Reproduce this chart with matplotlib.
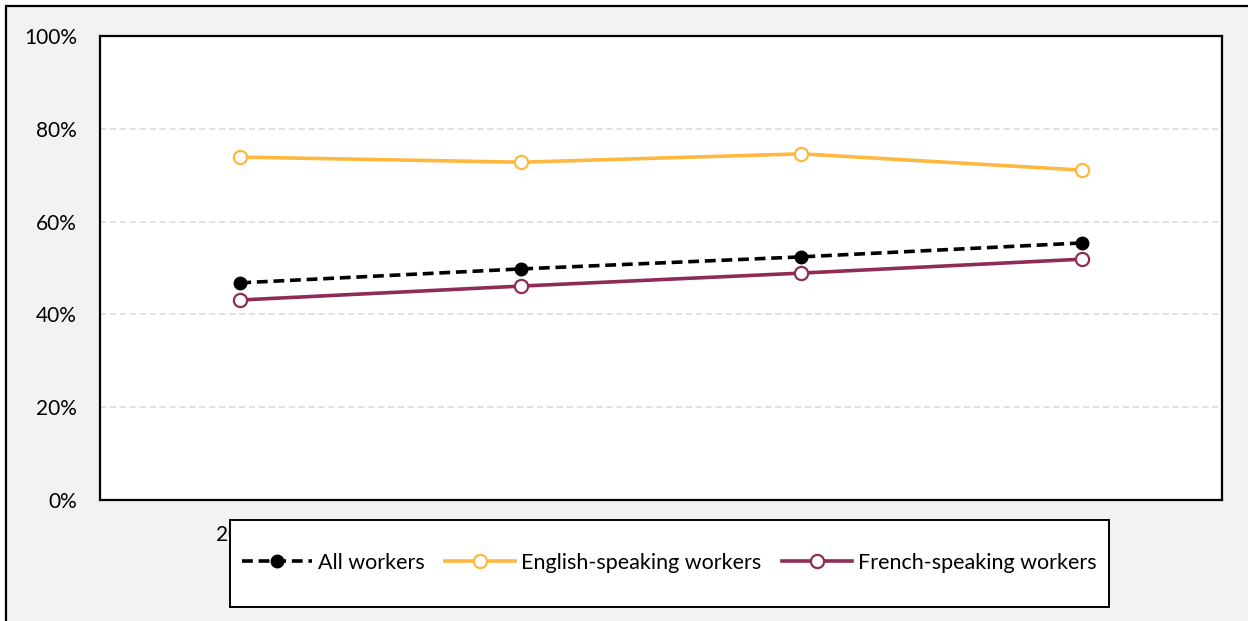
import matplotlib
matplotlib.use("Agg")
import matplotlib.pyplot as plt
from matplotlib.patches import Rectangle

years = ["2006", "2011", "2016", "2021"]
all_workers = [46.8, 49.8, 52.4, 55.4]
english = [73.9, 72.8, 74.6, 71.1]
french = [43.1, 46.1, 48.9, 51.9]
yticks = [0, 20, 40, 60, 80, 100]

C_ENG, C_FR = "#FFB83F", "#8E2C56"
W, H, DPI = 1248, 621, 100

plt.rcParams["font.family"] = ["Lato", "DejaVu Sans"]


def fx(px):
    return px / W


def fy(py):
    return 1 - py / H


fig = plt.figure(figsize=(W / DPI, H / DPI), dpi=DPI)
fig.patch.set_facecolor("white")
# outer chart frame (grey, runs off the right/bottom edge)
fig.patches.append(Rectangle((fx(6), -0.05), 1.1, fy(6) + 0.05, transform=fig.transFigure,
                             facecolor="#f2f2f2", edgecolor="black", lw=1.6, zorder=-10))

ax = fig.add_axes([fx(100), fy(500), fx(1122), 464 / H])
ax.set_zorder(1)
ax.set_facecolor("white")
x = range(len(years))
ax.plot(x, all_workers, color="black", ls=(0, (3, 1.6)), lw=2.6, marker="o", ms=9,
        mfc="black", mec="black", label="All workers", zorder=4)
ax.plot(x, english, color=C_ENG, lw=2.6, marker="o", ms=9.5, mfc="white", mec=C_ENG,
        mew=1.6, label="English-speaking workers", zorder=3)
ax.plot(x, french, color=C_FR, lw=2.6, marker="o", ms=9.5, mfc="white", mec=C_FR,
        mew=1.6, label="French-speaking workers", zorder=3)

ax.set_xlim(-0.5, len(years) - 0.5)
ax.set_ylim(0, 100)
ax.set_yticks(yticks)
ax.set_yticklabels([f"{v}%" for v in yticks], fontsize=15)
ax.set_xticks(list(x))
ax.set_xticklabels(years, fontsize=15)
ax.tick_params(length=0)
ax.tick_params(axis="y", pad=16.5)
ax.tick_params(axis="x", pad=18)
for v in yticks[1:-1]:
    ax.axhline(v, color="#d9d9d9", ls=(0, (4, 2.5)), lw=1.1, zorder=1)
for s in ax.spines.values():
    s.set_linewidth(1.6)
    s.set_color("black")

# legend box drawn over the x tick labels, as in the source chart
fig.patches.append(Rectangle((fx(230), fy(607)), fx(1109 - 230), (607 - 520) / H,
                             transform=fig.transFigure, facecolor="white",
                             edgecolor="black", lw=1.4, zorder=5))
leg = fig.legend(loc="center", bbox_to_anchor=(fx((230 + 1109) / 2), fy(563)),
                 ncol=3, fontsize=15.5, frameon=False, handlelength=3.25,
                 handletextpad=0.28, columnspacing=0.95, borderpad=0)
leg.set_zorder(10)

fig.savefig("out.png", dpi=DPI)
